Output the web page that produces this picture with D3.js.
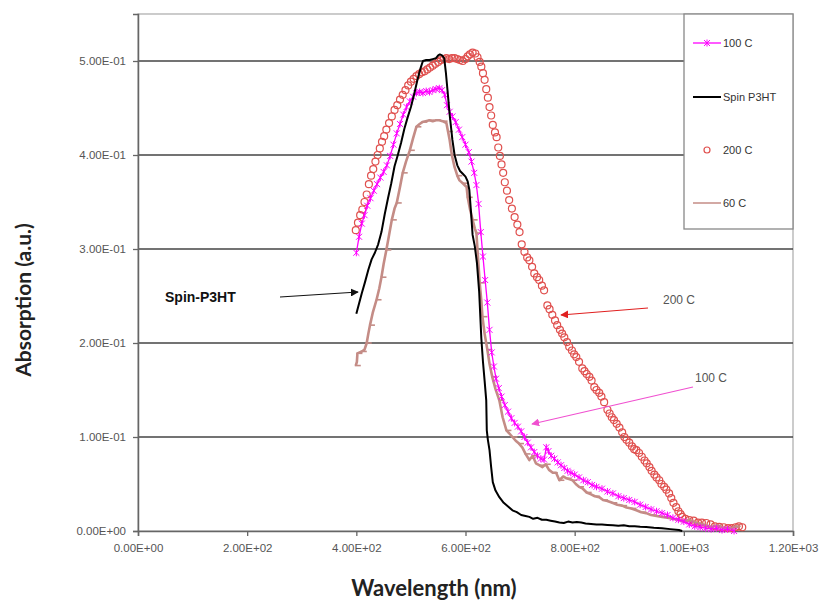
<!DOCTYPE html>
<html>
<head>
<meta charset="utf-8">
<script src="https://cdn.jsdelivr.net/npm/d3@7"></script>
<style>
  html, body { margin: 0; padding: 0; background: #fff; }
  svg { display: block; }
</style>
</head>
<body>
<svg id="chart" width="822" height="603"></svg>
<script>
// Absorption spectra of P3HT films: spin-coated and annealed at 60, 100, 200 C
const xTicks = [0, 200, 400, 600, 800, 1000, 1200];
const yTicks = [0, 0.1, 0.2, 0.3, 0.4, 0.5];

const series100 = [
  [400,.296],[405,.313],[410,.327],[415,.336],[420,.346],[426,.354],[432,.362],[438,.369],
  [444,.376],[450,.382],[456,.389],[462,.399],[468,.411],[474,.423],[480,.433],[486,.443],
  [492,.451],[498,.457],[504,.462],[510,.466],[516,.467],[522,.466],[528,.468],[534,.467],
  [540,.469],[546,.470],[552,.471],[557,.469],[562,.464],[566,.453],[571,.446],[576,.441],
  [582,.435],[588,.427],[594,.419],[600,.411],[606,.403],[611,.393],[616,.381],[620,.368],
  [624,.348],[628,.318],[632,.292],[636,.267],[640,.243],[644,.214],[648,.190],[652,.175],
  [656,.162],[661,.152],[666,.143],[672,.134],[678,.127],[684,.120],[690,.115],[696,.111],
  [702,.106],[708,.100],[714,.094],[720,.089],[726,.084],[732,.080],[738,.077],[744,.076],
  [748,.089],[752,.085],[757,.080],[763,.077],[769,.073],[775,.070],[781,.067],[787,.064],
  [793,.062],[800,.060],[808,.057],[816,.054],[824,.052],[832,.049],[840,.047],[850,.045],
  [860,.042],[870,.040],[880,.037],[890,.035],[900,.033],[910,.031],[920,.028],[930,.0255],
  [940,.023],[950,.021],[960,.019],[970,.017],[980,.014],[990,.012],[1000,.010],[1010,.007],
  [1020,.005],[1030,.004],[1040,.003],[1050,.002],[1060,.003],[1070,.001],[1080,.002],[1092,0]
];

const seriesSpin = [
  [400,.231],[405,.242],[410,.253],[416,.265],[422,.278],[428,.289],[434,.296],[440,.305],
  [446,.318],[452,.337],[458,.354],[464,.370],[470,.388],[476,.400],[482,.413],[488,.428],
  [494,.440],[500,.451],[506,.465],[512,.480],[518,.493],[522,.500],[528,.501],[534,.501],
  [540,.502],[546,.503],[550,.506],[553,.507],[557,.506],[561,.503],[564,.488],[567,.469],
  [571,.443],[576,.416],[580,.400],[585,.389],[590,.383],[595,.380],[600,.377],[604,.372],
  [607,.363],[610,.340],[613,.315],[617,.303],[621,.285],[625,.255],[629,.205],[632,.180],
  [635,.160],[638,.139],[639,.107],[641,.097],[644,.086],[647,.068],[650,.052],[655,.043],
  [662,.036],[670,.030],[678,.026],[686,.022],[694,.020],[702,.017],[710,.016],[717,.015],
  [724,.013],[732,.014],[740,.012],[748,.012],[756,.011],[764,.010],[772,.009],[780,.0085],
  [788,.010],[796,.009],[804,.0095],[812,.009],[820,.008],[830,.0075],[840,.007],[850,.007],
  [860,.0065],[870,.006],[880,.0055],[890,.006],[900,.005],[910,.005],[920,.0045],[931,.0043],
  [945,.0035],[960,.003],[975,.002],[991,.001],[997,0]
];

const series200 = [
  [399,.320],[403,.328],[407,.336],[411,.342],[415,.350],[419,.358],[423,.369],[427,.378],
  [431,.385],[435,.393],[439,.400],[443,.407],[447,.414],[451,.420],[455,.427],[460,.434],
  [465,.441],[470,.448],[475,.453],[480,.459],[485,.464],[490,.469],[495,.474],[500,.478],
  [505,.481],[510,.484],[515,.486],[520,.488],[525,.489],[530,.491],[535,.493],[540,.495],
  [545,.497],[550,.499],[555,.501],[560,.502],[565,.503],[570,.502],[575,.503],[580,.503],
  [585,.502],[590,.501],[595,.500],[600,.502],[604,.505],[608,.507],[613,.509],[618,.508],
  [622,.504],[626,.499],[629,.494],[632,.487],[635,.480],[638,.470],[641,.461],[644,.451],
  [647,.442],[650,.432],[654,.424],[657,.419],[660,.408],[663,.399],[666,.390],[669,.381],
  [672,.371],[676,.362],[680,.352],[685,.343],[690,.334],[695,.326],[699,.318],[703,.305],
  [708,.297],[713,.291],[717,.288],[722,.281],[726,.274],[731,.270],[735,.267],[740,.261],
  [744,.256],[750,.240],[754,.236],[759,.230],[764,.224],[768,.219],[773,.214],[777,.210],
  [781,.206],[786,.201],[790,.196],[795,.192],[799,.188],[803,.185],[808,.180],[814,.173],
  [818,.170],[822,.167],[827,.164],[831,.160],[836,.153],[840,.150],[845,.147],[849,.143],
  [854,.137],[860,.129],[864,.125],[868,.121],[872,.118],[877,.114],[882,.110],[887,.105],
  [891,.100],[895,.097],[900,.094],[905,.090],[909,.087],[913,.086],[918,.083],[923,.079],
  [928,.075],[932,.072],[937,.068],[941,.064],[946,.060],[950,.057],[955,.054],[959,.050],
  [964,.047],[968,.044],[973,.040],[977,.035],[981,.030],[986,.0255],[990,.021],[994,.018],
  [997,.015],[1003,.013],[1010,.0117],[1018,.011],[1026,.009],[1033,.009],[1041,.0085],
  [1049,.007],[1057,.005],[1065,.0043],[1073,.004],[1081,.003],[1088,.003],[1095,.004],
  [1101,.005],[1107,.004]
];

const series60 = [
  [399,.176],[401,.180],[402,.189],[406,.190],[410,.191],[415,.193],[419,.200],[422,.210],
  [425,.219],[430,.232],[437,.246],[442,.258],[446,.270],[450,.284],[455,.299],[460,.315],
  [465,.331],[470,.343],[474,.349],[480,.366],[485,.381],[491,.393],[498,.405],[504,.418],
  [510,.430],[516,.433],[521,.435],[527,.436],[534,.437],[540,.436],[546,.437],[552,.437],
  [558,.436],[565,.434],[568,.425],[571,.416],[575,.400],[580,.387],[585,.378],[589,.373],
  [595,.370],[602,.366],[604,.355],[608,.343],[613,.331],[617,.322],[620,.317],[623,.290],
  [626,.264],[629,.245],[631,.228],[635,.210],[640,.193],[644,.178],[649,.164],[655,.151],
  [662,.139],[668,.121],[675,.107],[680,.104],[686,.100],[692,.096],[698,.093],[704,.089],
  [710,.082],[717,.0755],[723,.080],[729,.072],[735,.070],[741,.068],[747,.071],[753,.065],
  [760,.062],[766,.062],[772,.054],[779,.058],[785,.056],[791,.055],[796,.054],[802,.050],
  [808,.047],[815,.045],[822,.041],[830,.039],[837,.037],[845,.036],[852,.033],[860,.032],
  [869,.030],[878,.028],[887,.027],[895,.025],[904,.024],[913,.022],[922,.020],[931,.019],
  [940,.017],[950,.016],[960,.015],[970,.014],[980,.013],[991,.0117],[1000,.010],[1010,.012],
  [1023,.0085],[1035,.007],[1045,.005],[1052,.0043],[1060,.006],[1070,.004],[1080,.003],
  [1088,.003],[1095,.005],[1101,.004]
];

const legendItems = ["100 C", "Spin P3HT", "200 C", "60 C"];

// Colours per series
const C100 = "#ff00ff", CSPIN = "#000000", C200 = "#e0504e", C60 = "#c48c86";

const svg = d3.select("#chart");
const L = 138, T = 14, R = 793, B = 531;

const x = d3.scaleLinear().domain([0, 1200]).range([L, R]);
const y = d3.scaleLinear().domain([0, 0.55]).range([B, T]);

// Excel-style scientific labels, e.g. 5.00E-01
function sci(v) {
  if (v === 0) return "0.00E+00";
  const e = Math.floor(Math.log10(Math.abs(v)) + 1e-9);
  const m = v / Math.pow(10, e);
  const sign = e < 0 ? "-" : "+";
  return m.toFixed(2) + "E" + sign + String(Math.abs(e)).padStart(2, "0");
}

// plot frame
svg.append("rect").attr("x", L).attr("y", T).attr("width", R - L).attr("height", B - T)
  .attr("fill", "#fff").attr("stroke", "#aaa").attr("stroke-width", 1.2);

// horizontal gridlines
svg.append("g").selectAll("line").data(yTicks.filter(d => d > 0)).join("line")
  .attr("x1", L).attr("x2", R).attr("y1", d => y(d)).attr("y2", d => y(d))
  .attr("stroke", "#444").attr("stroke-width", 1.5);

// axes
const fontTick = "'Liberation Sans', Arial, sans-serif";
const yAxis = svg.append("g").attr("transform", `translate(${L},0)`)
  .call(d3.axisLeft(y).tickValues(yTicks).tickFormat(sci).tickSize(5).tickPadding(7));
const xAxis = svg.append("g").attr("transform", `translate(0,${B})`)
  .call(d3.axisBottom(x).tickValues(xTicks).tickFormat(sci).tickSize(5).tickPadding(8));
[yAxis, xAxis].forEach(g => {
  g.select(".domain").attr("stroke", "#666").attr("stroke-width", 1.5);
  g.selectAll(".tick line").attr("stroke", "#666").attr("stroke-width", 1.3);
  g.selectAll(".tick text").attr("fill", "#555").style("font-family", fontTick).style("font-size", "11.5px");
});

// axis titles
const fontTitle = "Lato, 'Open Sans', sans-serif";
svg.append("text").attr("transform", "translate(31,300) rotate(-90)")
  .attr("text-anchor", "middle").attr("fill", "#222")
  .style("font-family", fontTitle).style("font-weight", "bold").style("font-size", "21px")
  .text("Absorption (a.u.)");
svg.append("text").attr("x", 434).attr("y", 596)
  .attr("text-anchor", "middle").attr("fill", "#222")
  .style("font-family", fontTitle).style("font-weight", "bold").style("font-size", "22px")
  .text("Wavelength (nm)");

const line = d3.line().x(d => x(d[0])).y(d => y(d[1]));

// 200 C: open circles
svg.append("g").selectAll("circle").data(series200).join("circle")
  .attr("cx", d => x(d[0])).attr("cy", d => y(d[1])).attr("r", 3.5)
  .attr("fill", "none").attr("stroke", C200).attr("stroke-width", 1.2);

// 60 C: thick line with dash markers
svg.append("path").datum(series60).attr("d", line)
  .attr("fill", "none").attr("stroke", C60).attr("stroke-width", 2.6).attr("stroke-linejoin", "round");
svg.append("g").selectAll("line").data(series60.filter((d, i) => i % 2 === 0)).join("line")
  .attr("x1", d => x(d[0]) - 1).attr("x2", d => x(d[0]) + 5)
  .attr("y1", d => y(d[1])).attr("y2", d => y(d[1]))
  .attr("stroke", C60).attr("stroke-width", 1.6);

// 100 C: line with star markers
svg.append("path").datum(series100).attr("d", line)
  .attr("fill", "none").attr("stroke", C100).attr("stroke-width", 1.3);
const star = "M-3,-3L3,3M-3,3L3,-3M0,-3.5L0,3.5";
svg.append("g").selectAll("path").data(series100).join("path")
  .attr("transform", d => `translate(${x(d[0])},${y(d[1])})`)
  .attr("d", star).attr("stroke", C100).attr("stroke-width", 1).attr("fill", "none");

// Spin P3HT: black line
svg.append("path").datum(seriesSpin).attr("d", line)
  .attr("fill", "none").attr("stroke", CSPIN).attr("stroke-width", 2).attr("stroke-linejoin", "round");

// legend
const lg = svg.append("g");
lg.append("rect").attr("x", 684).attr("y", 14).attr("width", 109).attr("height", 215)
  .attr("fill", "#fff").attr("stroke", "#888").attr("stroke-width", 1.3);
const legY = [43, 97, 150, 203];
legendItems.forEach((name, i) => {
  const yy = legY[i];
  const g = lg.append("g");
  if (name === "100 C") {
    g.append("line").attr("x1", 693).attr("x2", 721).attr("y1", yy).attr("y2", yy).attr("stroke", C100).attr("stroke-width", 1.3);
    g.append("path").attr("transform", `translate(707,${yy})`).attr("d", star).attr("stroke", C100).attr("fill", "none");
  } else if (name === "Spin P3HT") {
    g.append("line").attr("x1", 693).attr("x2", 721).attr("y1", yy).attr("y2", yy).attr("stroke", CSPIN).attr("stroke-width", 2);
  } else if (name === "200 C") {
    g.append("circle").attr("cx", 707).attr("cy", yy).attr("r", 3).attr("fill", "none").attr("stroke", C200).attr("stroke-width", 1.2);
  } else {
    g.append("line").attr("x1", 693).attr("x2", 721).attr("y1", yy).attr("y2", yy).attr("stroke", C60).attr("stroke-width", 1.5);
  }
  g.append("text").attr("x", 723).attr("y", yy + 4).attr("fill", "#333")
    .style("font-family", fontTick).style("font-size", "11px").text(name);
});

// annotations with arrows
const defs = svg.append("defs");
function marker(id, color) {
  defs.append("marker").attr("id", id).attr("viewBox", "0 0 10 10")
    .attr("refX", 9).attr("refY", 5).attr("markerWidth", 8).attr("markerHeight", 8)
    .attr("markerUnits", "userSpaceOnUse").attr("orient", "auto")
    .append("path").attr("d", "M0,0L10,5L0,10Z").attr("fill", color);
}
marker("arBlack", "#111");
marker("arRed", "#e02020");
marker("arPink", "#f050d0");

svg.append("text").attr("x", 165).attr("y", 302).attr("fill", "#111")
  .style("font-family", fontTick).style("font-weight", "bold").style("font-size", "14px")
  .text("Spin-P3HT");
svg.append("line").attr("x1", 280).attr("y1", 297).attr("x2", 358).attr("y2", 292)
  .attr("stroke", "#111").attr("stroke-width", 1.2).attr("marker-end", "url(#arBlack)");

svg.append("text").attr("x", 663).attr("y", 304).attr("fill", "#555")
  .style("font-family", fontTick).style("font-size", "12px").text("200 C");
svg.append("line").attr("x1", 648).attr("y1", 308).attr("x2", 561).attr("y2", 315)
  .attr("stroke", "#e02020").attr("stroke-width", 1.2).attr("marker-end", "url(#arRed)");

svg.append("text").attr("x", 695).attr("y", 382).attr("fill", "#555")
  .style("font-family", fontTick).style("font-size", "12px").text("100 C");
svg.append("line").attr("x1", 693).attr("y1", 387).attr("x2", 532).attr("y2", 424)
  .attr("stroke", "#f050d0").attr("stroke-width", 1.1).attr("marker-end", "url(#arPink)");
</script>
</body>
</html>
